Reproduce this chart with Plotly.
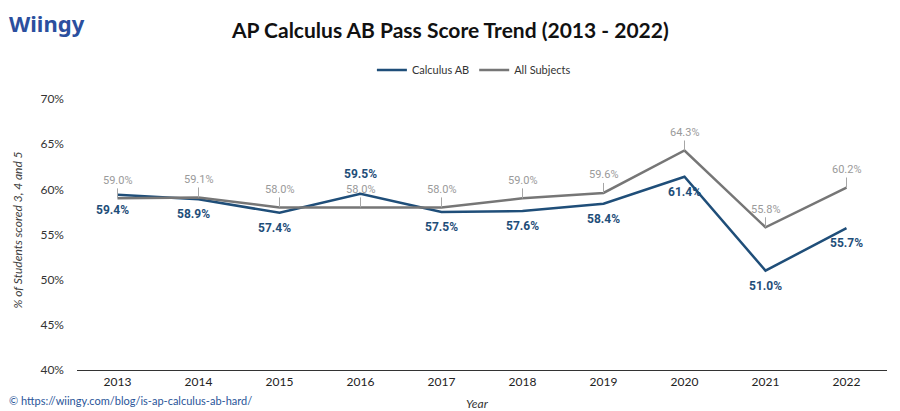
import plotly.graph_objects as go

years = ["2013", "2014", "2015", "2016", "2017", "2018", "2019", "2020", "2021", "2022"]
calc_ab = [59.4, 58.9, 57.4, 59.5, 57.5, 57.6, 58.4, 61.4, 51.0, 55.7]
all_subjects = [59.0, 59.1, 58.0, 58.0, 58.0, 59.0, 59.6, 64.3, 55.8, 60.2]
calc_label_above = [False, False, False, True, False, False, False, False, False, False]

BLUE = "#1f4e79"
GRAY = "#767676"
LABEL_GRAY = "#9a9a9a"
FONT = "Lato, 'Open Sans', sans-serif"

fig = go.Figure()
fig.add_trace(go.Scatter(
    x=years, y=calc_ab, name="Calculus AB", mode="lines",
    line=dict(color=BLUE, width=2.5),
))
fig.add_trace(go.Scatter(
    x=years, y=all_subjects, name="All Subjects", mode="lines",
    line=dict(color=GRAY, width=2.5),
))

for i, v in enumerate(all_subjects):
    fig.add_annotation(
        x=i, y=v, xref="x", yref="y", text=f"{v:.1f}%",
        showarrow=True, arrowhead=0, arrowwidth=1, arrowcolor="#a6a6a6",
        ax=0, ay=-18, font=dict(family="Roboto, sans-serif", size=11, color=LABEL_GRAY),
    )
for i, v in enumerate(calc_ab):
    fig.add_annotation(
        x=i, y=v, xref="x", yref="y", text=f"<b>{v:.1f}%</b>", showarrow=False,
        yshift=(20 if calc_label_above[i] else -15),
        xshift=(-5 if i < 3 else 0),
        font=dict(family="Roboto, sans-serif", size=12, color=BLUE),
    )

fig.add_annotation(x=0.46, y=1.255, xref="paper", yref="paper", yanchor="middle",
                   xanchor="center", text="<b>AP Calculus AB Pass Score Trend (2013 - 2022)</b>",
                   showarrow=False, font=dict(family=FONT, size=21, color="#111111"))
fig.add_annotation(x=-0.087, y=1.28, xref="paper", yref="paper", yanchor="middle", xanchor="left",
                   text="<b>Wiingy</b>", showarrow=False,
                   font=dict(family="'Noto Sans', sans-serif", size=22, color="#2b4f9e"))
fig.add_annotation(x=-0.087, y=-0.114, xref="paper", yref="paper", yanchor="middle", xanchor="left",
                   text="© https://wiingy.com/blog/is-ap-calculus-ab-hard/", showarrow=False,
                   font=dict(family=FONT, size=11, color="#2a5599"))
fig.add_annotation(x=0.494, y=-0.122, xref="paper", yref="paper", yanchor="middle", xanchor="center",
                   text="<i>Year</i>", showarrow=False,
                   font=dict(family=FONT, size=12, color="#333333"))
fig.add_annotation(x=-0.074, y=0.515, xref="paper", yref="paper", yanchor="middle", xanchor="center",
                   text="<i>% of Students scored 3, 4 and 5</i>", showarrow=False, textangle=-90,
                   font=dict(family=FONT, size=12, color="#404040"))

# page body has an 8px margin, so the figure is 892x403 and the top/left offsets are reduced by 8
fig.update_layout(
    width=892, height=403,
    margin=dict(l=69, r=13, t=91, b=41, autoexpand=False),
    paper_bgcolor="white", plot_bgcolor="white",
    font=dict(family=FONT, size=12, color="#333333"),
    showlegend=True,
    legend=dict(orientation="h", x=0.49, xanchor="center", y=1.107, yanchor="middle",
                font=dict(family=FONT, size=11, color="#333333")),
)
fig.update_xaxes(type="category", range=[-0.5, 9.5], showgrid=False, showline=True,
                 linecolor="#333333", linewidth=1.2, ticks="",
                 tickfont=dict(family=FONT, size=12, color="#222222"))
fig.update_yaxes(range=[40, 70], dtick=5, ticksuffix="%", showgrid=False, zeroline=False,
                 showline=False, ticklabelstandoff=12,
                 tickfont=dict(family=FONT, size=12, color="#333333"))

fig.write_html("out.html")
